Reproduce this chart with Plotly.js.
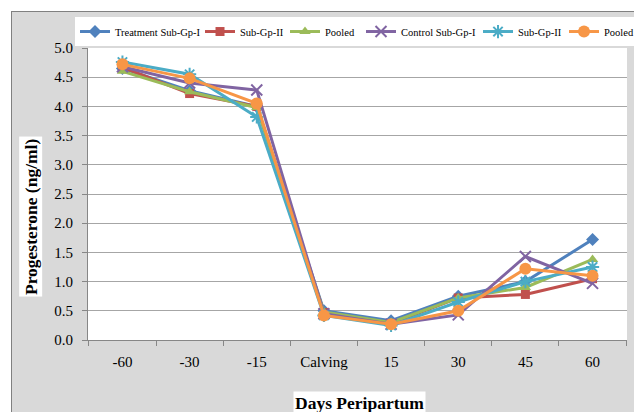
<!DOCTYPE html>
<html>
<head>
<meta charset="utf-8">
<script src="https://cdn.plot.ly/plotly-3.0.1.min.js"></script>
<style>
  html, body { margin: 0; padding: 0; background: #ffffff; overflow: hidden; }
  #chart { position: absolute; left: 11px; top: 11px; width: 623px; height: 401px;
           border-left: 1px solid #808080; border-top: 1px solid #808080; }
</style>
</head>
<body>
<div id="chart"></div>
<script>
const days = ["-60", "-30", "-15", "Calving", "15", "30", "45", "60"];
const seriesNames = ["Treatment Sub-Gp-I", "Sub-Gp-II", "Pooled", "Control Sub-Gp-I", "Sub-Gp-II", "Pooled"];
const treatSub1 = [4.65, 4.27, 4.00, 0.50, 0.33, 0.75, 1.00, 1.72];
const treatSub2 = [4.67, 4.22, 4.00, 0.47, 0.28, 0.72, 0.78, 1.05];
const treatPooled = [4.60, 4.25, 3.98, 0.48, 0.30, 0.72, 0.90, 1.38];
const ctrlSub1 = [4.68, 4.40, 4.28, 0.45, 0.27, 0.43, 1.43, 0.97];
const ctrlSub2 = [4.76, 4.55, 3.82, 0.42, 0.25, 0.65, 1.00, 1.25];
const ctrlPooled = [4.72, 4.48, 4.05, 0.42, 0.27, 0.50, 1.22, 1.10];
const yTicks = [0, 0.5, 1, 1.5, 2, 2.5, 3, 3.5, 4, 4.5, 5];

const colors = ["#4F81BD", "#C0504D", "#9BBB59", "#8064A2", "#4BACC6", "#F79646"];
const symbols = ["diamond", "square", "triangle-up", "x-thin-open", "asterisk-open", "circle"];
const sizes = [10, 9, 10, 11, 11, 12];
const legendWidths = [80, 40, 31, 72, 41, 30];
const values = [treatSub1, treatSub2, treatPooled, ctrlSub1, ctrlSub2, ctrlPooled];

const traces = values.map((v, i) => ({
  x: days, y: v, type: "scatter", mode: "lines+markers", name: seriesNames[i],
  legendwidth: legendWidths[i],
  line: { color: colors[i], width: 3 },
  marker: { symbol: symbols[i], size: sizes[i], color: colors[i],
            line: { color: colors[i], width: (i === 3 || i === 4) ? 2 : 0 } }
}));

const serif = "Times New Roman, Liberation Serif, DejaVu Serif, serif";
const layout = {
  width: 622, height: 400,
  margin: { l: 76, r: 7, t: 36, b: 72, autoexpand: false },
  paper_bgcolor: "#d9d9d9", plot_bgcolor: "#ffffff",
  font: { family: serif, size: 14, color: "#000000" },
  showlegend: true,
  legend: {
    orientation: "h", x: -0.0241, xanchor: "left", y: 1.0564, yanchor: "middle",
    bgcolor: "#ffffff", font: { family: serif, size: 10.5, color: "#000" },
    itemwidth: 30, tracegroupgap: 0, entrywidthmode: "pixels"
  },
  xaxis: {
    type: "category", tickson: "boundaries", ticks: "outside", ticklen: 5,
    tickcolor: "#878787", showline: true, linecolor: "#878787", linewidth: 1,
    showgrid: false, tickfont: { family: serif, size: 15 }, fixedrange: true,
    ticklabelstandoff: 8
  },
  yaxis: {
    range: [0, 5], tickvals: yTicks, tickformat: ".1f", ticks: "outside", ticklen: 5,
    tickcolor: "#878787", showline: true, linecolor: "#878787", linewidth: 1,
    showgrid: true, gridcolor: "#a6a6a6", gridwidth: 1, zeroline: false,
    tickfont: { family: serif, size: 15 }, fixedrange: true, ticklabelstandoff: 6
  },
  annotations: [
    { text: "<b>Progesterone (ng/ml)</b>", xref: "paper", yref: "paper",
      x: -0.106, y: 0.424, xanchor: "center", yanchor: "middle", textangle: -90,
      showarrow: false, bgcolor: "#ffffff", font: { family: serif, size: 17.5, color: "#000" } },
    { text: "<b>Days Peripartum</b>", xref: "paper", yref: "paper",
      x: 0.503, y: -0.215, xanchor: "center", yanchor: "middle",
      showarrow: false, bgcolor: "#ffffff", font: { family: serif, size: 17.5, color: "#000" } }
  ]
};

Plotly.newPlot("chart", traces, layout, { displayModeBar: false, responsive: false });
</script>
</body>
</html>
